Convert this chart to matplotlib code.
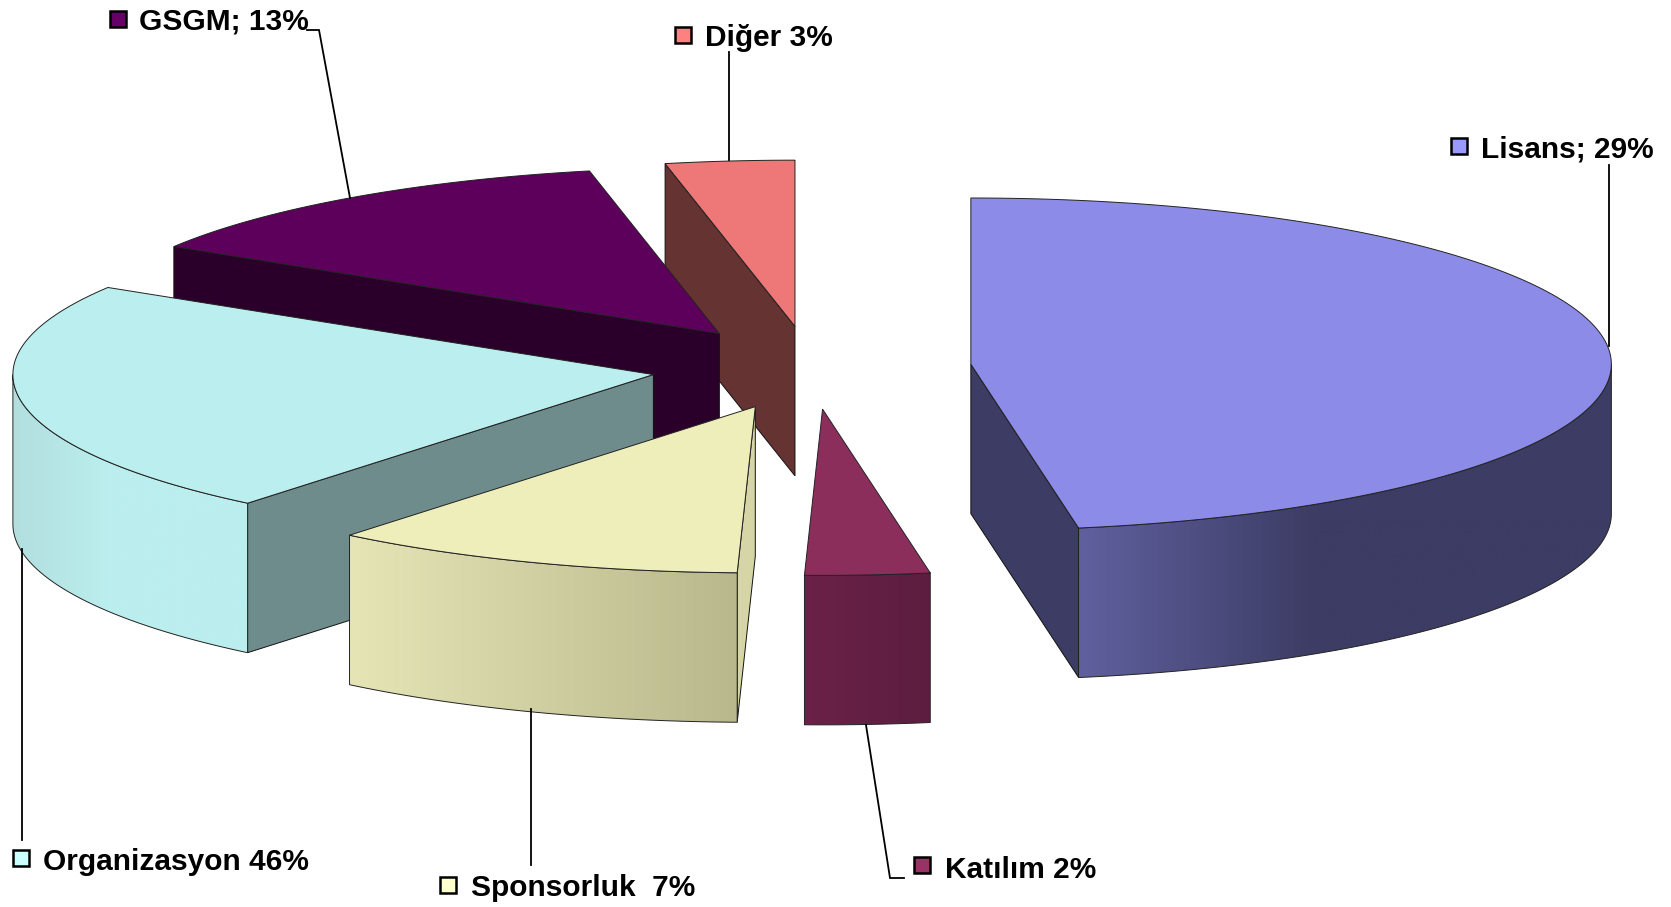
import numpy as np
import matplotlib
matplotlib.use("Agg")
import matplotlib.pyplot as plt
from matplotlib.colors import LinearSegmentedColormap
from matplotlib.patches import Polygon, Rectangle

plt.rcParams['font.family'] = ['Liberation Sans', 'DejaVu Sans']

# slices clockwise from 12 o'clock. the drawn sizes do not follow the printed labels in the original
names = ["Lisans", "Katılım", "Sponsorluk", "Organizasyon", "GSGM", "Diğer"]
label_texts = ["Lisans; 29%", "Katılım 2%", "Sponsorluk  7%", "Organizasyon 46%", "GSGM; 13%", "Diğer 3%"]
drawn_shares = [47.31, 3.14, 10.47, 22.86, 12.97, 3.25]

top_colors = ["#8c8ce8", "#8c2e5c", "#eeeebb", "#bbeeee", "#5c005c", "#ee7777"]
face_colors = ["#3c3c64", "#5c1e40", "#d5d5a5", "#6f8c8c", "#2a002a", "#663333"]
key_colors = ["#9999ff", "#993366", "#ffffcc", "#ccffff", "#660066", "#ff8080"]
# outer wall shading, left to right
wall_left = ["#60609f", "#6b2148", "#e6e5b6", "#b2dede", "#2a002a", "#663333"]
wall_right = ["#3c3c64", "#5c1e40", "#b8b88c", "#bbeeee", "#2a002a", "#663333"]
wall_stop = [0.44, 1.0, 1.0, 0.4, 1.0, 1.0]

# pie geometry in pixels
cx, cy = 811.3, 367.7
rx, ry = 640.5, 166.2
depth = 149.5
explode = 0.25

# label layout: key box, text start, text baseline, leader line
key_xy = [(1451, 138), (914, 857), (440, 877), (13, 850), (110, 11), (675, 27)]
text_xy = [(1481, 157), (945, 878), (471, 896), (43, 870), (139, 30), (705, 46)]
leaders = [
    [(1609, 165), (1609, 346)],
    [(866, 725), (890, 878), (904, 878)],
    [(531, 709), (531, 865)],
    [(21.5, 549), (21.5, 840)],
    [(350, 198), (319, 30), (307, 30)],
    [(729, 52), (729, 161)],
]

fig = plt.figure(figsize=(16.71, 9.07), dpi=100)
ax = fig.add_axes([0, 0, 1, 1])


def arc(ox, oy, a0, a1, n=200, drop=0):
    t = np.radians(np.linspace(a0, a1, n))
    return np.column_stack([ox + rx * np.sin(t), oy - ry * np.cos(t) + drop])


edges = np.concatenate([[0], np.cumsum(drawn_shares)]) / np.sum(drawn_shares) * 360

# back slices first, so the front ones cover them
order = [5, 4, 3, 2, 1, 0]
for z, i in enumerate(order):
    a0, a1 = edges[i], edges[i + 1]
    mid = np.radians((a0 + a1) / 2)
    ox = cx + explode * rx * np.sin(mid)
    oy = cy - explode * ry * np.cos(mid)
    base = z * 10 + 2
    p0 = arc(ox, oy, a0, a0, 1)[0]
    p1 = arc(ox, oy, a1, a1, 1)[0]

    # cut faces, only the ones turned towards us
    if np.sin(np.radians(a0)) < -1e-6:
        ax.add_patch(Polygon([(ox, oy), p0, p0 + [0, depth], (ox, oy + depth)], closed=True,
                             fc=face_colors[i], ec="#111111", lw=0.7, zorder=base))
    if np.sin(np.radians(a1)) > 1e-6:
        ax.add_patch(Polygon([(ox, oy), p1, p1 + [0, depth], (ox, oy + depth)], closed=True,
                             fc=face_colors[i], ec="#111111", lw=0.7, zorder=base))

    # outer wall, gradient clipped to the wall shape
    w0, w1 = max(a0, 90), min(a1, 270)
    if w1 > w0:
        upper = arc(ox, oy, w0, w1)
        lower = arc(ox, oy, w0, w1, drop=depth)
        wall = Polygon(np.vstack([upper, lower[::-1]]), closed=True, fc="none", ec="#222222",
                       lw=0.7, zorder=base + 2)
        ax.add_patch(wall)
        xs = np.r_[upper[:, 0], lower[:, 0]]
        cmap = LinearSegmentedColormap.from_list(
            "w", [(0, wall_left[i]), (wall_stop[i], wall_right[i]), (1, wall_right[i])])
        im = ax.imshow(np.linspace(0, 1, 256)[None, :], cmap=cmap, aspect="auto",
                       extent=[xs.min(), xs.max(), lower[:, 1].max(), upper[:, 1].min()],
                       zorder=base + 1)
        im.set_clip_path(wall)

    # top
    top = np.vstack([[(ox, oy)], arc(ox, oy, a0, a1)])
    ax.add_patch(Polygon(top, closed=True, fc=top_colors[i], ec="#222222", lw=0.7, zorder=base + 3))

for i in range(len(names)):
    pts = np.array(leaders[i])
    ax.plot(pts[:, 0], pts[:, 1], color="black", lw=1.3, zorder=1 if i == 5 else 100,
            solid_joinstyle="miter")
    ax.add_patch(Rectangle(key_xy[i], 16, 16, fc=key_colors[i], ec="black", lw=1.8, zorder=101))
    ax.text(text_xy[i][0], text_xy[i][1], label_texts[i], fontsize=21.5, fontweight="bold",
            color="black", ha="left", va="baseline", zorder=102)

ax.set_xlim(0, 1671)
ax.set_ylim(907, 0)
ax.axis("off")
fig.savefig("out.png", dpi=100, facecolor="white")
